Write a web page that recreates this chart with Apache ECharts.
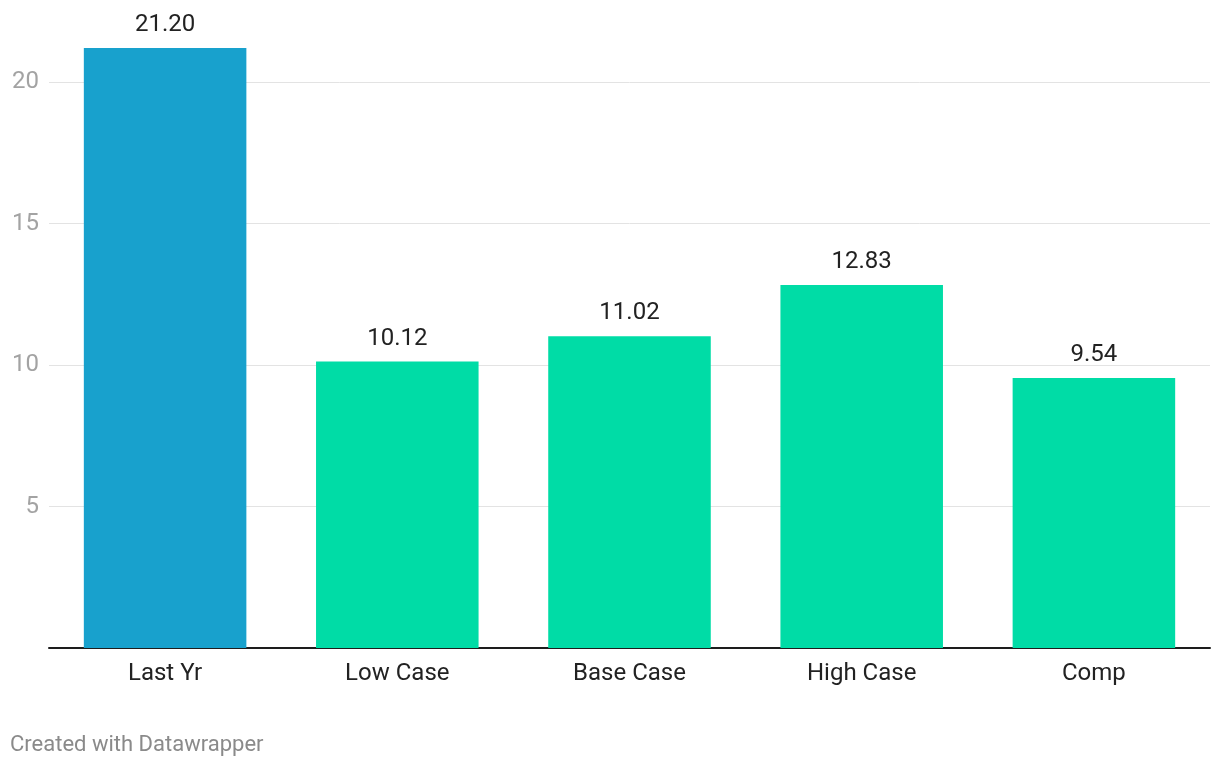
<!DOCTYPE html>
<html><head><meta charset="utf-8">
<script src="https://cdn.jsdelivr.net/npm/echarts@6/dist/echarts.min.js"></script>
<style>html,body{margin:0;padding:0;background:#fff}#c{width:1220px;height:768px}</style>
</head><body><div id="c"></div>
<script>
const categories = ["Last Yr", "Low Case", "Base Case", "High Case", "Comp"];
const values = [21.20, 10.12, 11.02, 12.83, 9.54];
const barColors = ["#18a1cd", "#00dca6", "#00dca6", "#00dca6", "#00dca6"];
const yTicks = [0, 5, 10, 15, 20];

const chart = echarts.init(document.getElementById('c'), null, {renderer: 'canvas'});
chart.setOption({
  animation: false,
  backgroundColor: '#fff',
  textStyle: {fontFamily: 'Roboto'},
  grid: {left: 49, right: 10, top: 82, bottom: 120, containLabel: false},
  xAxis: {
    type: 'category', data: categories,
    axisLine: {lineStyle: {color: '#1d1d1d', width: 2}},
    axisTick: {show: false},
    axisLabel: {color: '#222', fontSize: 24, margin: 14, fontFamily: 'Roboto'}
  },
  yAxis: {
    type: 'value', min: yTicks[0], max: yTicks[yTicks.length - 1], interval: 5,
    axisLine: {show: false}, axisTick: {show: false},
    splitLine: {lineStyle: {color: '#e3e3e3', width: 1}},
    axisLabel: {color: '#a3a3a3', fontSize: 24, align: 'right', margin: 10, fontFamily: 'Roboto',
      formatter: v => v === 0 ? '' : String(v)}
  },
  series: [{
    type: 'bar', clip: false,
    barCategoryGap: '30%',
    data: values.map((v, i) => ({value: v, itemStyle: {color: barColors[i]}})),
    label: {show: true, position: 'top', distance: 11, color: '#222', fontSize: 24, fontFamily: 'Roboto',
      formatter: p => p.value.toFixed(2)}
  }],
  graphic: [{
    type: 'text', left: 10, top: 734,
    style: {text: 'Created with Datawrapper', fill: '#8a8a8a', fontSize: 22, fontFamily: 'Roboto'}
  }]
});
</script></body></html>
